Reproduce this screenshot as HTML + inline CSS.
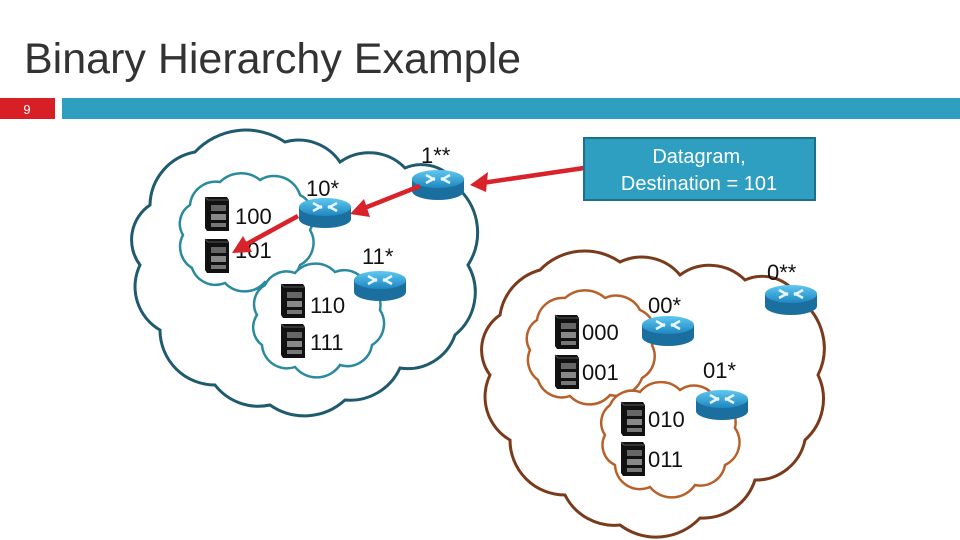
<!DOCTYPE html>
<html><head><meta charset="utf-8"><style>
html,body{margin:0;padding:0;background:#fff;}
body{width:960px;height:540px;overflow:hidden;position:relative;font-family:"Liberation Sans",sans-serif;}
</style></head><body>
<svg width="960" height="540" viewBox="0 0 960 540" xmlns="http://www.w3.org/2000/svg" style="position:absolute;left:0;top:0">
<defs>
<linearGradient id="rt" x1="0" y1="0" x2="0" y2="1"><stop offset="0" stop-color="#5fc8f0"/><stop offset="1" stop-color="#1f86c0"/></linearGradient>
<g id="router">
<path d="M-26,-5 L-26,7 A26,9 0 0 0 26,7 L26,-5 Z" fill="#1b6f9e"/>
<ellipse cx="0" cy="-5" rx="26" ry="9" fill="url(#rt)"/>
<path d="M-12,-9 L-3,-4 M-12,-1 L-3,-6 M12,-9 L3,-4 M12,-1 L3,-6" stroke="#e8f6ff" stroke-width="2.5" fill="none"/>
</g>
<g id="srv">
<path d="M4,0 L26,0 L28,3 L28,34 L6,34 L4,31 Z" fill="#111"/>
<path d="M4,0 L7,3 L28,3" stroke="#555" fill="none"/>
<rect x="10" y="8" width="15" height="6" fill="#666"/>
<rect x="10" y="17" width="15" height="6" fill="#888"/>
<rect x="10" y="26" width="15" height="4" fill="#777"/>
</g>
</defs>

<text x="24" y="73" font-size="43" fill="#333">Binary Hierarchy Example</text>
<rect x="0" y="98" width="55" height="21" fill="#d91f26"/>
<text x="27" y="114" font-size="13" fill="#fff" text-anchor="middle">9</text>
<rect x="62" y="98" width="898" height="21" fill="#2e9fc0"/>

<!-- left big cloud -->
<g fill="none" stroke="#1f5a6e" stroke-width="3">
<path d="M150,205 A55,55 0 0 1 195,152 A70,70 0 0 1 285,142 A50,50 0 0 1 340,162 A50,50 0 0 1 405,168 A42,42 0 0 1 460,190 A60,60 0 0 1 468,265 A55,55 0 0 1 455,335 A50,50 0 0 1 400,368 A55,55 0 0 1 345,400 A60,60 0 0 1 270,405 A55,55 0 0 1 215,385 A55,55 0 0 1 160,330 A50,50 0 0 1 140,265 A42,42 0 0 1 150,205 Z"/>
</g>
<g fill="#fff" stroke="#2a8a9e" stroke-width="2.5">
<path d="M190,205 A26,26 0 0 1 220,182 A30,30 0 0 1 260,180 A27,27 0 0 1 300,195 A25,25 0 0 1 310,230 A25,25 0 0 1 300,265 A27,27 0 0 1 265,282 A27,27 0 0 1 225,283 A25,25 0 0 1 192,268 A25,25 0 0 1 183,235 A22,22 0 0 1 190,205 Z"/>
<path d="M265,285 A24,24 0 0 1 295,273 A27,27 0 0 1 335,272 A24,24 0 0 1 365,282 A25,25 0 0 1 380,310 A25,25 0 0 1 372,345 A25,25 0 0 1 340,365 A28,28 0 0 1 295,367 A25,25 0 0 1 262,345 A22,22 0 0 1 257,315 A22,22 0 0 1 265,285 Z"/>
</g>

<!-- right big cloud -->
<g fill="none" stroke="#7a3b1c" stroke-width="3">
<path d="M500,315 A55,55 0 0 1 540,270 A62,62 0 0 1 620,262 A50,50 0 0 1 680,275 A50,50 0 0 1 745,280 A42,42 0 0 1 800,300 A60,60 0 0 1 818,375 A55,55 0 0 1 805,440 A50,50 0 0 1 755,480 A55,55 0 0 1 700,518 A60,60 0 0 1 620,525 A55,55 0 0 1 565,495 A55,55 0 0 1 510,440 A50,50 0 0 1 490,375 A42,42 0 0 1 500,315 Z"/>
</g>
<g fill="#fff" stroke="#b8602a" stroke-width="2.5">
<path d="M537,320 A26,26 0 0 1 565,298 A30,30 0 0 1 605,298 A27,27 0 0 1 640,310 A25,25 0 0 1 652,345 A25,25 0 0 1 642,378 A27,27 0 0 1 610,395 A27,27 0 0 1 570,396 A25,25 0 0 1 538,380 A25,25 0 0 1 530,350 A22,22 0 0 1 537,320 Z"/>
<path d="M610,405 A24,24 0 0 1 640,392 A27,27 0 0 1 680,390 A24,24 0 0 1 715,398 A25,25 0 0 1 735,428 A25,25 0 0 1 725,465 A25,25 0 0 1 695,485 A28,28 0 0 1 650,487 A25,25 0 0 1 615,465 A22,22 0 0 1 605,435 A22,22 0 0 1 610,405 Z"/>
</g>

<!-- servers -->
<use href="#srv" x="201" y="197"/><use href="#srv" x="201" y="239"/>
<use href="#srv" x="277" y="284"/><use href="#srv" x="277" y="324"/>
<use href="#srv" x="551" y="315"/><use href="#srv" x="551" y="355"/>
<use href="#srv" x="617" y="402"/><use href="#srv" x="617" y="442"/>

<!-- routers -->
<use href="#router" x="438" y="184"/>
<use href="#router" x="325" y="212"/>
<use href="#router" x="380" y="285"/>
<use href="#router" x="791" y="299"/>
<use href="#router" x="668" y="330"/>
<use href="#router" x="722" y="404"/>

<g font-size="22" fill="#111">
<text x="235" y="224">100</text><text x="235" y="258">101</text>
<text x="310" y="313">110</text><text x="310" y="350">111</text>
<text x="582" y="340">000</text><text x="582" y="380">001</text>
<text x="648" y="427">010</text><text x="648" y="467">011</text>
<text x="421" y="163">1**</text><text x="306" y="196">10*</text>
<text x="362" y="264">11*</text><text x="767" y="280">0**</text>
<text x="648" y="313">00*</text><text x="703" y="378">01*</text>
</g>

<!-- arrows -->
<g stroke="#d9232b" stroke-width="4.5" fill="#d9232b">
<line x1="584" y1="168" x2="482" y2="183"/>
<path d="M470,185 L488,172 L486,192 Z" stroke="none"/>
<line x1="420" y1="186" x2="362" y2="209"/>
<path d="M350,214 L364,199 L370,217 Z" stroke="none"/>
<line x1="298" y1="216" x2="243" y2="246"/>
<path d="M232,253 L243,236 L252,252 Z" stroke="none"/>
</g>

<rect x="584" y="138" width="231" height="62" fill="#2e9fc0" stroke="#1e6f88" stroke-width="2"/>
<text x="699" y="163" font-size="20" fill="#fff" text-anchor="middle">Datagram,</text>
<text x="699" y="190" font-size="20" fill="#fff" text-anchor="middle">Destination = 101</text>
</svg>
</body></html>
